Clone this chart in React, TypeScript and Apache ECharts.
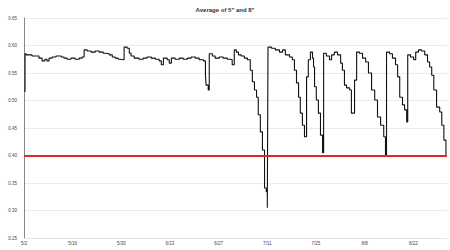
import React, { useEffect, useRef } from "react";
import * as echarts from "echarts";

const START = new Date(2000, 4, 2); // 5/2
const days = [
  0, 0.3, 0.6, 2.3, 4.3, 5.2, 6, 6.6, 7.2, 8.1, 9.2, 10.7, 11.5, 12.4, 13.5, 14.7, 15.9, 16.7,
  17.3, 18.2, 19.3, 20.5, 21.6, 22.8, 23.6, 24.5, 25.4, 26.2, 27.1, 27.7, 28.8, 29.7, 30.3, 30.8,
  31.7, 33.1, 34.3, 35.4, 36.6, 37.8, 38.9, 39.5, 40.1, 41.2, 41.8, 42.4, 43.5, 44.7, 45.8, 47,
  48.1, 49.3, 50.4, 51.6, 52.2, 52.4, 53, 53.3, 54.2, 55, 56.2, 57.3, 58.5, 59.4, 59.9, 60.5,
  61.1, 61.7, 62.5, 63.4, 64.3, 65.1, 65.7, 66.3, 66.9, 67.4, 68, 68.6, 69.2, 69.7, 70, 70.2,
  71.2, 72.3, 73.5, 74.4, 75.2, 76.4, 77.2, 77.8, 78.4, 79, 79.5, 80.1, 80.7, 81.3, 81.8, 82.4,
  83, 83.3, 83.6, 84.1, 84.7, 85.3, 85.9, 86.2, 87, 87.9, 88.5, 89.3, 90.2, 91.1, 91.6, 92.2,
  92.8, 93.7, 94.2, 95.1, 95.7, 96.5, 97.4, 98.3, 99.1, 100, 100.9, 101.7, 102.6, 103.5, 104,
  104.3, 105.2, 106, 106.9, 107.5, 108.1, 108.9, 109.5, 110.1, 110.4, 111.2, 112.1, 112.7, 113.5,
  114.4, 115.3, 116.1, 116.7, 117.3, 117.9, 118.7, 119.6, 120.2, 120.8, 121.4,
];
const avg = [
  0.517, 0.585, 0.583, 0.581, 0.577, 0.572, 0.575, 0.572, 0.577, 0.579, 0.581, 0.579, 0.577, 0.575,
  0.577, 0.575, 0.577, 0.579, 0.592, 0.59, 0.588, 0.59, 0.588, 0.586, 0.585, 0.583, 0.579, 0.577,
  0.575, 0.574, 0.597, 0.595, 0.586, 0.581, 0.577, 0.575, 0.577, 0.579, 0.577, 0.575, 0.572, 0.565,
  0.577, 0.574, 0.568, 0.577, 0.575, 0.577, 0.575, 0.577, 0.579, 0.577, 0.574, 0.572, 0.546, 0.528,
  0.519, 0.585, 0.581, 0.577, 0.579, 0.577, 0.575, 0.574, 0.565, 0.592, 0.588, 0.583, 0.581, 0.577,
  0.574, 0.555, 0.534, 0.519, 0.506, 0.474, 0.443, 0.41, 0.341, 0.334, 0.305, 0.597, 0.595, 0.592,
  0.588, 0.592, 0.583, 0.579, 0.574, 0.555, 0.532, 0.506, 0.477, 0.455, 0.434, 0.543, 0.574, 0.588,
  0.577, 0.561, 0.525, 0.501, 0.477, 0.437, 0.405, 0.586, 0.581, 0.574, 0.583, 0.588, 0.583, 0.568,
  0.555, 0.528, 0.523, 0.519, 0.477, 0.537, 0.588, 0.586, 0.577, 0.57, 0.55, 0.519, 0.501, 0.47,
  0.455, 0.434, 0.401, 0.588, 0.585, 0.577, 0.565, 0.543, 0.506, 0.492, 0.483, 0.461, 0.583, 0.579,
  0.574, 0.588, 0.592, 0.59, 0.583, 0.57, 0.561, 0.546, 0.519, 0.488, 0.479, 0.455, 0.428, 0.401,
];
const threshold = 0.4;
const titleText = 'Average of 5" and 8"';

function dayLabel(d: number): string {
  if (Math.abs(d % 14) > 1e-6) return "";
  const dt = new Date(START.getTime() + d * 86400000);
  return `${dt.getMonth() + 1}/${dt.getDate()}`;
}

export default function App() {
  const ref = useRef<HTMLDivElement>(null);
  useEffect(() => {
    if (!ref.current) return;
    const chart = echarts.init(ref.current, null, { renderer: "svg" });
    const font = "Liberation Sans";
    chart.setOption({
      animation: false,
      title: {
        text: titleText,
        left: "center",
        top: 2,
        textStyle: { fontSize: 6, fontWeight: "bold", color: "#333", fontFamily: font },
      },
      grid: { left: 24, right: 3, top: 18, bottom: 12 },
      xAxis: {
        type: "value",
        min: 0,
        max: 121.7,
        interval: 14,
        axisLine: { show: true, lineStyle: { color: "#e4e4e4", width: 1 } },
        axisTick: { show: false },
        splitLine: { show: false },
        axisLabel: {
          fontSize: 4.5,
          color: "#444",
          fontFamily: font,
          margin: 3,
          formatter: (v: number) => dayLabel(v),
        },
      },
      yAxis: {
        type: "value",
        min: 0.25,
        max: 0.65,
        interval: 0.05,
        axisLine: { show: true, lineStyle: { color: "#888", width: 1 } },
        axisTick: { show: false },
        splitLine: { show: true, lineStyle: { color: "#ececec", width: 1 } },
        axisLabel: {
          fontSize: 4.5,
          color: "#444",
          fontFamily: font,
          margin: 7,
          formatter: (v: number) => v.toFixed(2),
        },
      },
      series: [
        {
          type: "line",
          step: "end",
          data: days.map((d, i) => [d, avg[i]]),
          showSymbol: false,
          lineStyle: { color: "#111", width: 1.1 },
          z: 3,
          markLine: {
            silent: true,
            symbol: "none",
            label: { show: false },
            lineStyle: { color: "#e0282c", width: 2.2, type: "solid" },
            data: [{ yAxis: threshold }],
          },
        },
      ],
    });
    return () => chart.dispose();
  }, []);
  return (
    <div
      ref={ref}
      style={{ position: "absolute", left: 0, top: 0, width: 450, height: 250 }}
    />
  );
}
